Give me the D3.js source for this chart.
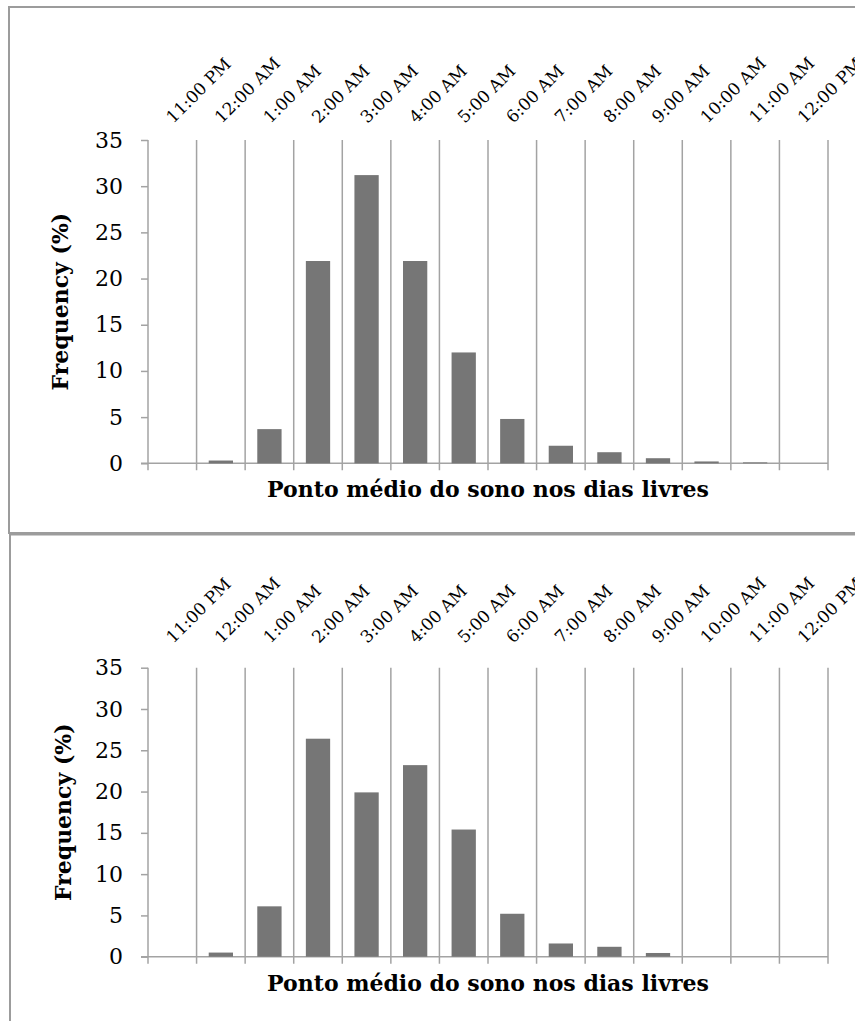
<!DOCTYPE html>
<html>
<head>
<meta charset="utf-8">
<script src="https://cdn.jsdelivr.net/npm/d3@7/dist/d3.min.js"></script>
<style>
  html, body { margin: 0; padding: 0; background: #fff; }
  svg { display: block; }
  text { font-family: "DejaVu Serif", serif; fill: #000; }
</style>
</head>
<body>
<svg id="chart" width="855" height="1021"></svg>
<script>
// Hourly bins of the mid-point of sleep on free days
const categories = ["11:00 PM", "12:00 AM", "1:00 AM", "2:00 AM", "3:00 AM", "4:00 AM",
  "5:00 AM", "6:00 AM", "7:00 AM", "8:00 AM", "9:00 AM", "10:00 AM", "11:00 AM", "12:00 PM"];

// Frequency (%) per bin, first panel
const frequencyTop = [0, 0.3, 3.7, 21.9, 31.2, 21.9, 12.0, 4.8, 1.9, 1.2, 0.55, 0.2, 0.1, 0];

// Frequency (%) per bin, second panel
const frequencyBottom = [0, 0.5, 6.1, 26.4, 19.9, 23.2, 15.4, 5.2, 1.6, 1.2, 0.45, 0, 0, 0];

const yTicks = [0, 5, 10, 15, 20, 25, 30, 35];
const yMax = 35;

const yTitle = "Frequency (%)";
const xTitle = "Ponto médio do sono nos dias livres";

const svg = d3.select("#chart");
const gridColor = "#a3a3a3";
const barColor = "#767676";

function drawPanel(values, cfg) {
  const g = svg.append("g");

  // panel frame
  g.append("rect")
    .attr("x", cfg.frameX).attr("y", cfg.frameY)
    .attr("width", 1000).attr("height", cfg.frameH)
    .attr("fill", "none")
    .attr("stroke", "#9c9c9c")
    .attr("stroke-width", 2);

  const x = d3.scaleBand()
    .domain(categories)
    .range([148, 828])
    .paddingInner(0.5)
    .paddingOuter(0.25);

  const y = d3.scaleLinear()
    .domain([0, yMax])
    .range([cfg.plotBottom, cfg.plotTop]);

  const step = x.step();
  const gap = (step - x.bandwidth()) / 2;
  const boundaries = categories.map(c => x(c) - gap).concat([x(categories[categories.length - 1]) + x.bandwidth() + gap]);

  // vertical category separators (extend below the baseline as ticks)
  g.append("g").selectAll("line")
    .data(boundaries)
    .join("line")
    .attr("x1", d => d).attr("x2", d => d)
    .attr("y1", y(yMax)).attr("y2", y(0) + 7)
    .attr("stroke", gridColor)
    .attr("stroke-width", 1.5);

  // value axis
  const yAxis = d3.axisLeft(y)
    .tickValues(yTicks)
    .tickSize(7)
    .tickPadding(18)
    .tickFormat(d3.format("d"));

  const ya = g.append("g")
    .attr("transform", `translate(${boundaries[0]},0)`)
    .call(yAxis);
  ya.select(".domain").remove();
  ya.selectAll(".tick line").attr("stroke", gridColor).attr("stroke-width", 1.5);
  ya.selectAll(".tick text")
    .style("font-family", "'DejaVu Serif', serif")
    .style("font-size", "22px")
    .attr("fill", "#000");

  // baseline
  g.append("line")
    .attr("x1", boundaries[0] - 7).attr("x2", boundaries[boundaries.length - 1])
    .attr("y1", y(0)).attr("y2", y(0))
    .attr("stroke", gridColor)
    .attr("stroke-width", 1.5);

  // bars
  g.append("g").selectAll("rect")
    .data(values.map((v, i) => ({ cat: categories[i], v })))
    .join("rect")
    .attr("x", d => x(d.cat))
    .attr("width", x.bandwidth())
    .attr("y", d => y(d.v))
    .attr("height", d => y(0) - y(d.v))
    .attr("fill", barColor);

  // rotated category labels across the top
  g.append("g").selectAll("text")
    .data(categories)
    .join("text")
    .attr("transform", d => `translate(${x(d) + x.bandwidth() / 2 + 1},${cfg.labelY}) rotate(-45)`)
    .attr("text-anchor", "start")
    .style("font-size", "17px")
    .text(d => d);

  // axis titles
  g.append("text")
    .attr("x", (boundaries[0] + boundaries[boundaries.length - 1]) / 2)
    .attr("y", cfg.xTitleY)
    .attr("text-anchor", "middle")
    .style("font-size", "22px")
    .style("font-weight", "bold")
    .text(xTitle);

  g.append("text")
    .attr("transform", `translate(${cfg.yTitleX},${(y(0) + y(yMax)) / 2}) rotate(-90)`)
    .attr("text-anchor", "middle")
    .style("font-size", "22px")
    .style("font-weight", "bold")
    .text(yTitle);
}

drawPanel(frequencyTop, {
  frameX: 9, frameY: 7, frameH: 526,
  plotTop: 140, plotBottom: 463.3,
  labelY: 124, xTitleY: 497, yTitleX: 68
});

drawPanel(frequencyBottom, {
  frameX: 10, frameY: 534.5, frameH: 600,
  plotTop: 667.7, plotBottom: 956.7,
  labelY: 644, xTitleY: 991, yTitleX: 71
});
</script>
</body>
</html>
